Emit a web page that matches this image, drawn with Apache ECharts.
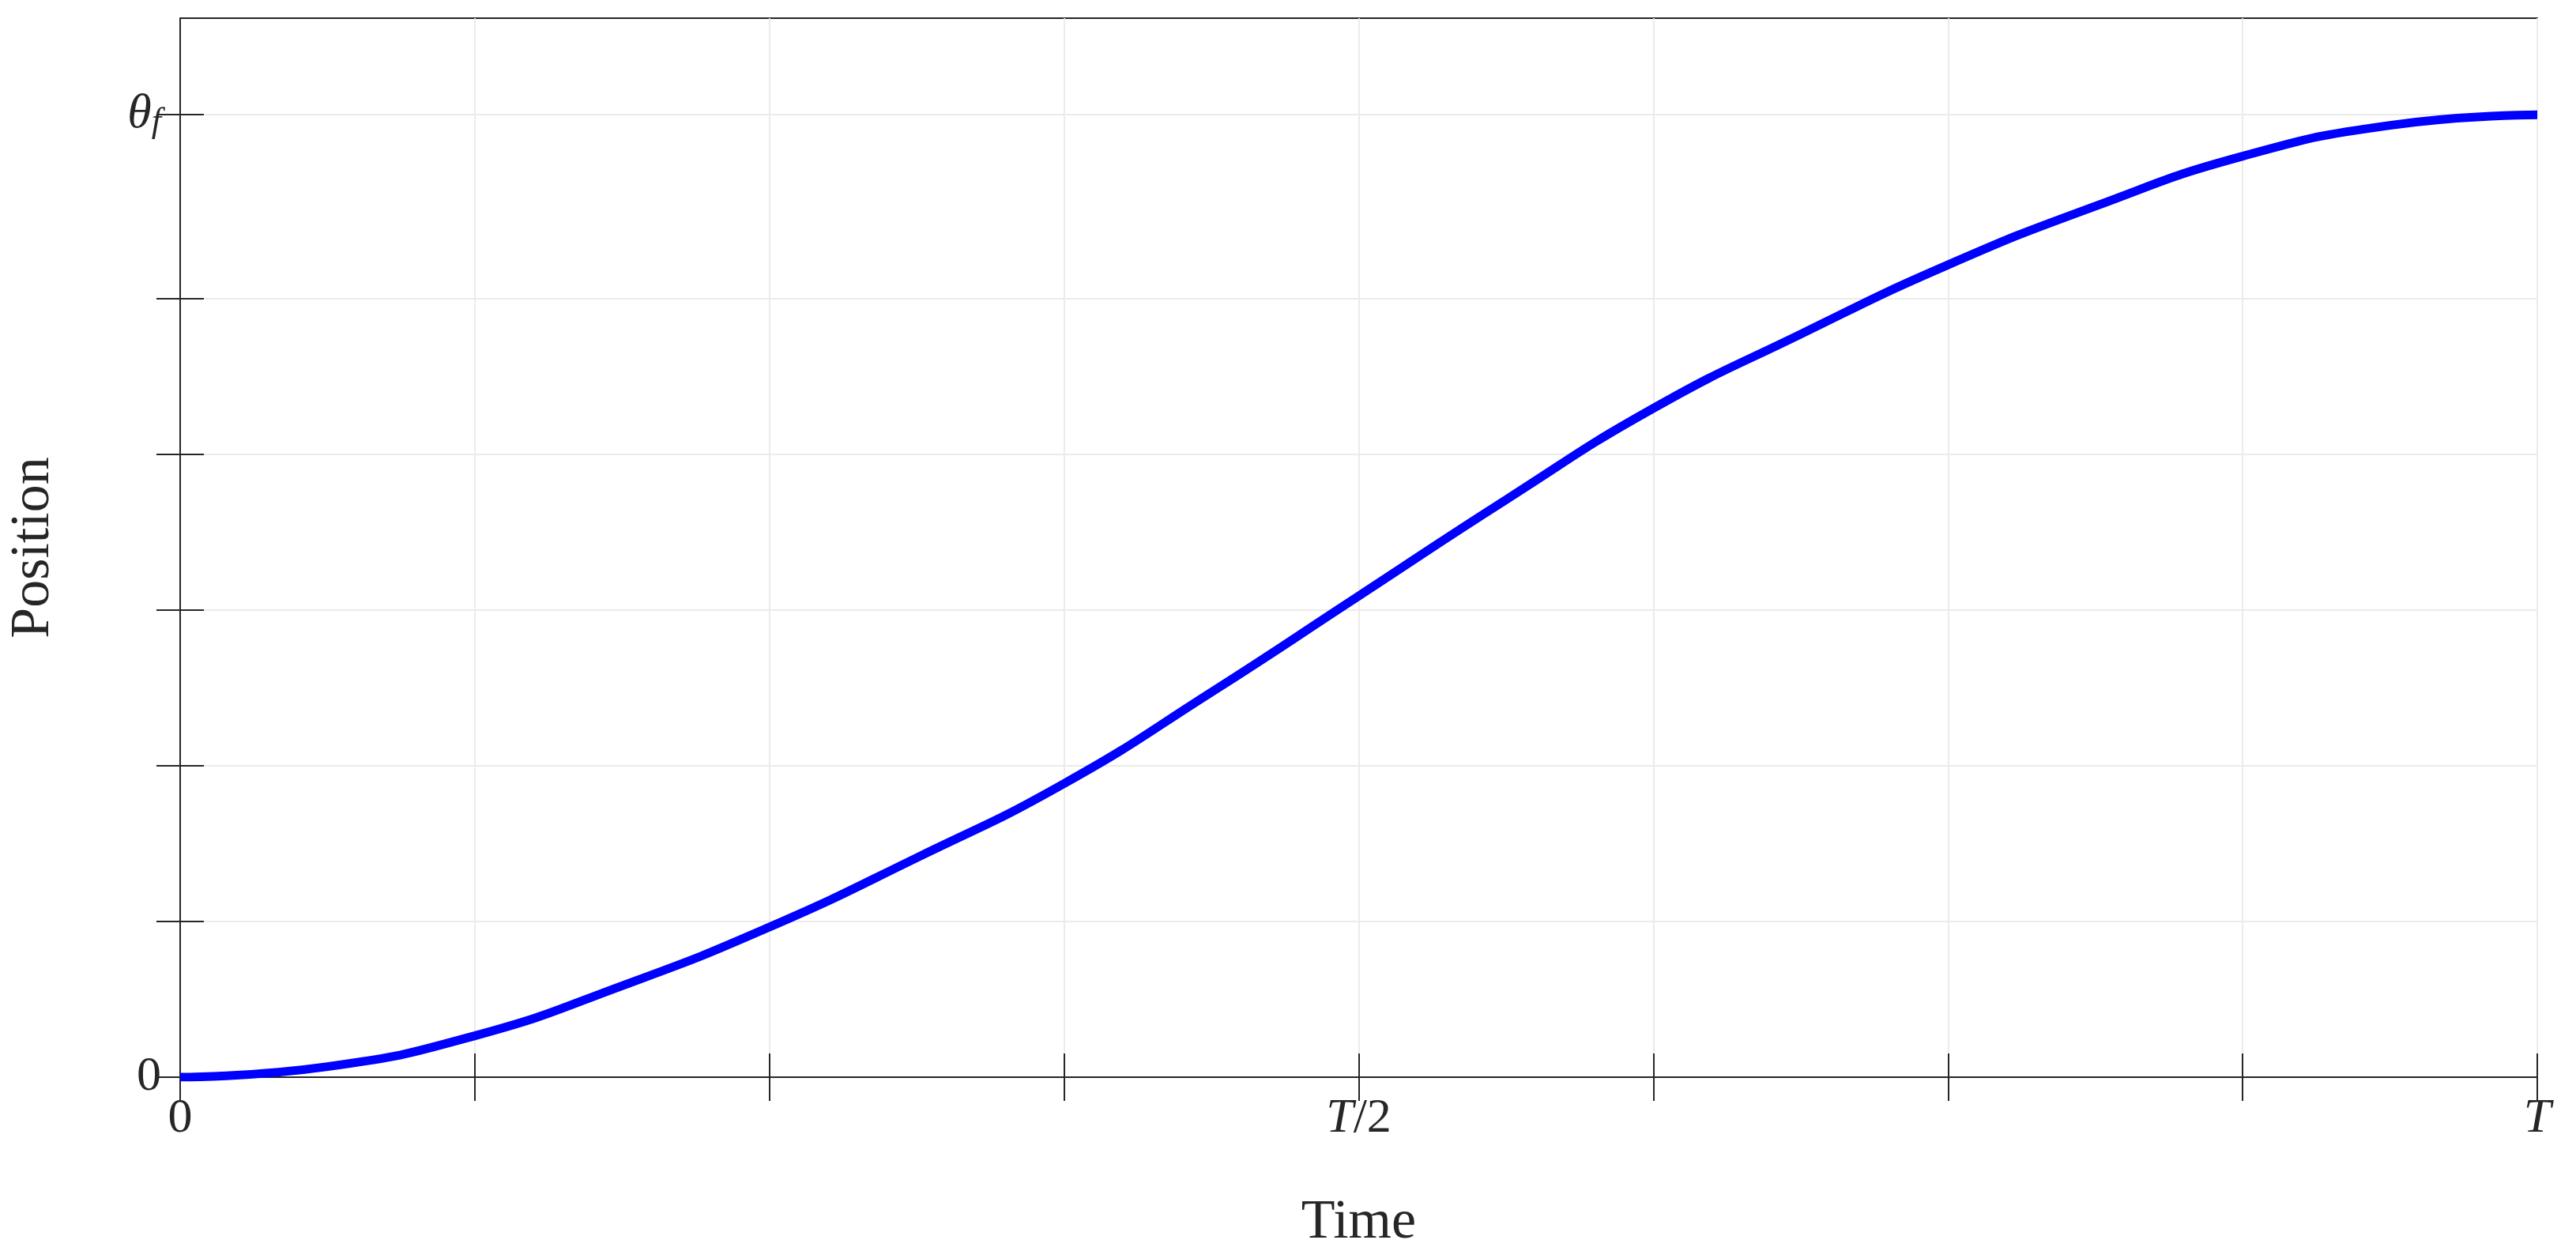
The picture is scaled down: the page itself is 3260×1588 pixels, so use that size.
<!DOCTYPE html>
<html>
<head>
<meta charset="utf-8">
<script src="https://cdn.jsdelivr.net/npm/echarts@6/dist/echarts.min.js"></script>
<style>html,body{margin:0;padding:0;background:#fff}#chart{width:3260px;height:1588px}</style>
</head>
<body>
<div id="chart"></div>
<script>
// time in eighths of T, position in grid units (theta_f ~ 6.18)
const THETA_F = 6.18;
const timeValues = [0, 0.5, 1, 1.5, 2, 2.5, 3, 3.5, 4, 4.5, 5, 5.5, 6, 6.5, 7, 7.5, 8];
const positionValues = [0, 0.068, 0.266, 0.587, 0.964, 1.409, 1.885, 2.472, 3.09,
  3.708, 4.295, 4.771, 5.216, 5.593, 5.914, 6.112, 6.18];
const xTickLabels = { 0: "0", 4: "{i|T}/2", 8: "{i|T}" };
const yTicks = [0, 1, 2, 3, 4, 5, THETA_F];

const AXIS_COLOR = "#262626";
const FONT = "Liberation Serif";

let myChart = echarts.init(document.getElementById("chart"));
let option = {
  animation: false,
  grid: { left: 204, right: 49, top: 23, bottom: 222, show: true, borderColor: AXIS_COLOR, borderWidth: 2 },
  xAxis: [
    {
      type: "value", min: 0, max: 8, interval: 1,
      name: "Time", nameLocation: "middle", nameGap: 150,
      nameTextStyle: { fontFamily: FONT, fontSize: 70, color: AXIS_COLOR },
      axisLine: { lineStyle: { color: AXIS_COLOR, width: 2 } },
      axisTick: { inside: true, length: 30, lineStyle: { color: AXIS_COLOR, width: 2 } },
      axisLabel: {
        margin: 22, fontFamily: FONT, fontSize: 62, color: AXIS_COLOR,
        formatter: v => xTickLabels[v] || "",
        rich: { i: { fontStyle: "italic", fontFamily: FONT, fontSize: 62, color: AXIS_COLOR } }
      },
      splitLine: { lineStyle: { color: "#ebebeb", width: 2 } }
    },
    {
      type: "value", min: 0, max: 8, interval: 1, position: "top",
      axisLine: { show: false },
      axisTick: { inside: true, length: 30, lineStyle: { color: AXIS_COLOR, width: 2 } },
      axisLabel: { show: false }, splitLine: { show: false }
    }
  ],
  yAxis: [
    {
      type: "value", min: 0, max: 6.8,
      name: "Position", nameLocation: "middle", nameGap: 150,
      nameTextStyle: { fontFamily: FONT, fontSize: 70, color: AXIS_COLOR },
      axisLine: { show: true, lineStyle: { color: AXIS_COLOR, width: 2 } },
      axisTick: { show: true, inside: true, length: 30, customValues: yTicks, lineStyle: { color: AXIS_COLOR, width: 2 } },
      axisLabel: {
        margin: 24, fontFamily: FONT, fontSize: 62, color: AXIS_COLOR,
        customValues: [0, THETA_F],
        formatter: v => (v === 0 ? "0" : "{i|θ}{s|f}"),
        rich: {
          i: { fontStyle: "italic", fontFamily: FONT, fontSize: 62, color: AXIS_COLOR },
          s: { fontStyle: "italic", fontFamily: FONT, fontSize: 44, color: AXIS_COLOR, padding: [20, 0, 0, 0] }
        }
      },
      splitLine: { show: true, lineStyle: { color: "#ebebeb", width: 2 } }
    },
    {
      type: "value", min: 0, max: 6.8, position: "right",
      axisLine: { show: false },
      axisTick: { show: true, inside: true, length: 30, customValues: yTicks, lineStyle: { color: AXIS_COLOR, width: 2 } },
      axisLabel: { show: false }, splitLine: { show: false }
    }
  ],
  series: [
    {
      type: "line", smooth: true, symbol: "none",
      data: timeValues.map((t, i) => [t, positionValues[i]]),
      lineStyle: { color: "#0000ff", width: 11 }
    }
  ]
};
myChart.setOption(option);
</script>
</body>
</html>
